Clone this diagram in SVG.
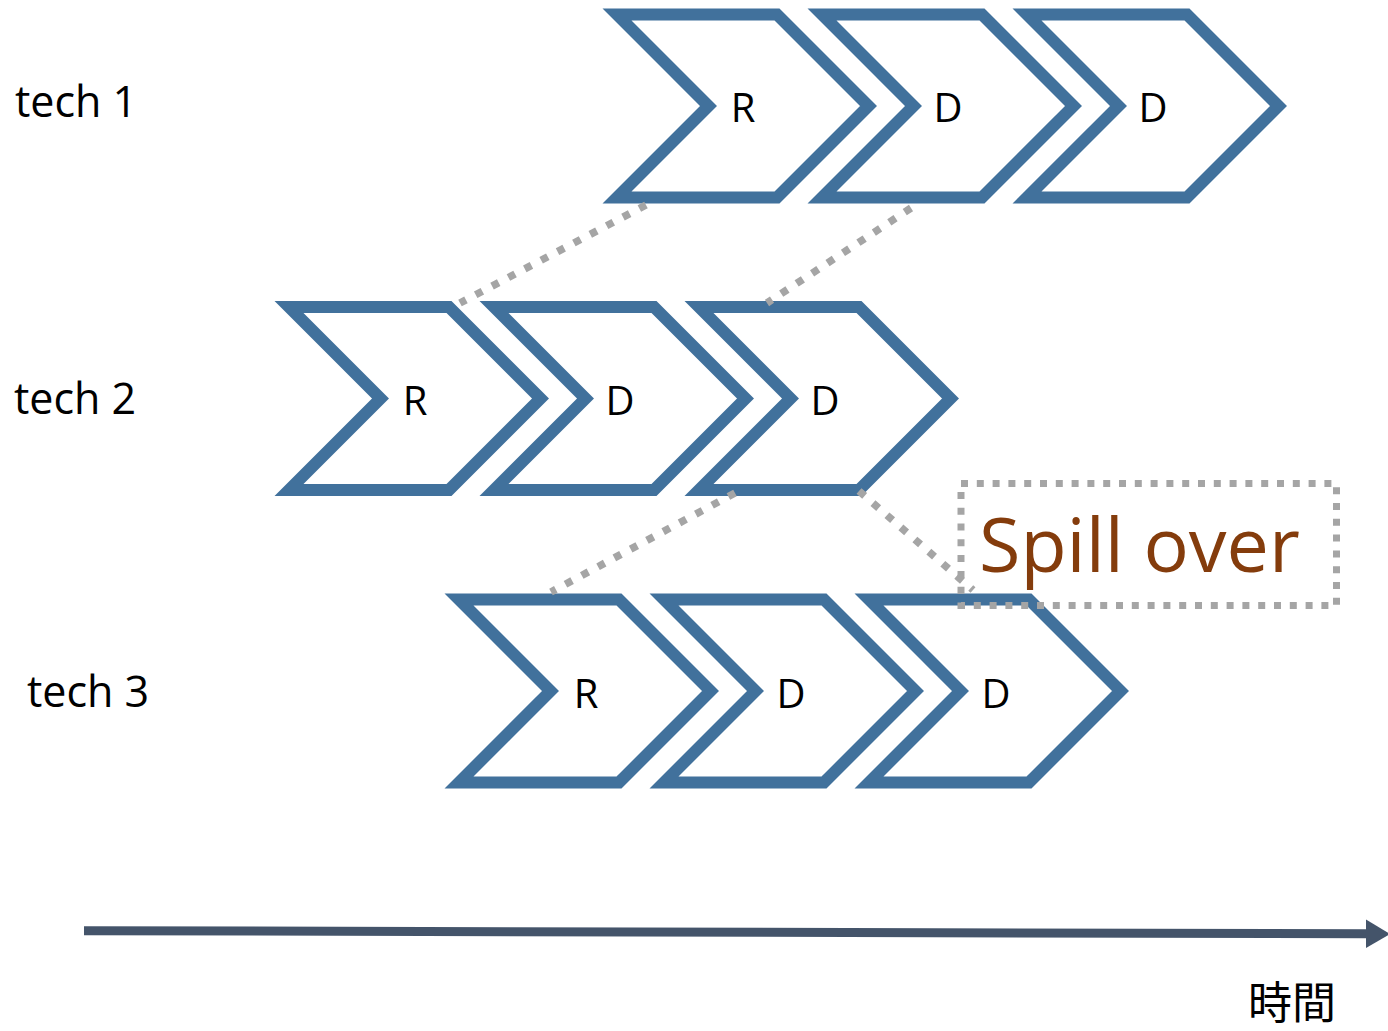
<svg xmlns="http://www.w3.org/2000/svg" xmlns:xlink="http://www.w3.org/1999/xlink" width="1388" height="1031" viewBox="0 0 1388 1031">
  <style>
    .chev { fill: #ffffff; stroke: #41719C; stroke-width: 12; stroke-linejoin: miter; stroke-miterlimit: 10; }
    .lbl { font-family: "Open Sans", "Liberation Sans", sans-serif; font-size: 40px; fill: #000000; }
    .row { font-size: 43px; }
    .mid { text-anchor: middle; }
    .dot { fill: none; stroke: #A5A5A5; stroke-width: 7.5; stroke-dasharray: 7.5 11; }
    .box { fill: none; stroke: #A5A5A5; stroke-width: 7; stroke-dasharray: 7 8.8; }
    .spill { font-family: "Open Sans", "Liberation Sans", sans-serif; font-size: 75.5px; fill: #843C0C; }
    .time { font-family: "Noto Sans CJK JP", "Noto Sans CJK SC", sans-serif; font-size: 44px; fill: #000000; }
  </style>
  <defs>
    <path id="chevron" d="M0,0 H160 L251.5,91.5 L160,183 H0 L91.5,91.5 Z"/>
  </defs>

  <rect width="1388" height="1031" fill="#ffffff"/>

  <g id="row-labels">
    <text id="tech1" class="lbl row" x="15" y="117">tech 1</text>
    <text id="tech2" class="lbl row" x="14" y="414">tech 2</text>
    <text id="tech3" class="lbl row" x="27" y="707">tech 3</text>
  </g>

  <g id="t1-r"><use xlink:href="#chevron" class="chev" transform="translate(617,14.5)"/><text class="lbl mid" x="743" y="122">R</text></g>
  <g id="t1-d1"><use xlink:href="#chevron" class="chev" transform="translate(822,14.5)"/><text class="lbl mid" x="948" y="122">D</text></g>
  <g id="t1-d2"><use xlink:href="#chevron" class="chev" transform="translate(1027,14.5)"/><text class="lbl mid" x="1153" y="122">D</text></g>

  <g id="t2-r"><use xlink:href="#chevron" class="chev" transform="translate(289,307)"/><text class="lbl mid" x="415" y="415">R</text></g>
  <g id="t2-d1"><use xlink:href="#chevron" class="chev" transform="translate(494,307)"/><text class="lbl mid" x="620" y="415">D</text></g>
  <g id="t2-d2"><use xlink:href="#chevron" class="chev" transform="translate(699,307)"/><text class="lbl mid" x="825" y="415">D</text></g>

  <g id="t3-r"><use xlink:href="#chevron" class="chev" transform="translate(459,599.5)"/><text class="lbl mid" x="586" y="708">R</text></g>
  <g id="t3-d1"><use xlink:href="#chevron" class="chev" transform="translate(664,599.5)"/><text class="lbl mid" x="791" y="708">D</text></g>
  <g id="t3-d2"><use xlink:href="#chevron" class="chev" transform="translate(869,599.5)"/><text class="lbl mid" x="996" y="708">D</text></g>

  <g id="connectors">
    <line class="dot" x1="646" y1="205" x2="460" y2="303"/>
    <line class="dot" x1="911" y1="208" x2="767" y2="303"/>
    <line class="dot" x1="735" y1="493" x2="551" y2="592"/>
    <line class="dot" x1="859" y1="491" x2="973" y2="590"/>
  </g>

  <g id="spill-over">
    <rect class="box" x="961" y="483.5" width="375.5" height="122"/>
    <text class="spill" x="979" y="572">Spill over</text>
  </g>

  <g id="time-axis">
    <line x1="84" y1="930.7" x2="1368" y2="933.8" stroke="#44546A" stroke-width="9"/>
    <polygon points="1366,919.5 1390,934 1366,948" fill="#44546A"/>
    <text class="time" x="1248" y="1019">時間</text>
  </g>
</svg>
